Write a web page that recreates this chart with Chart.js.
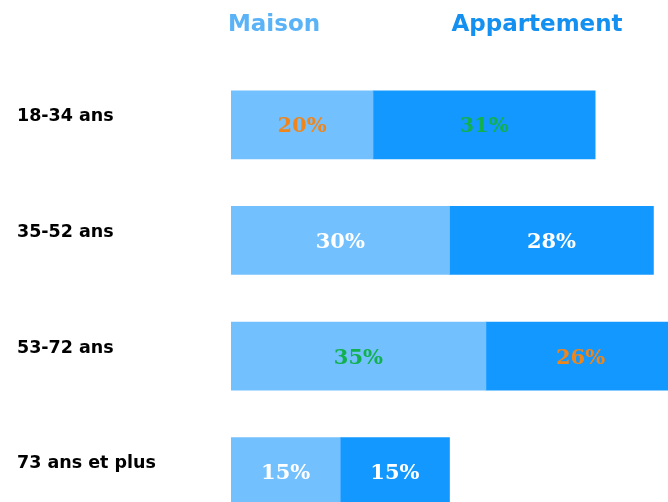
<!DOCTYPE html>
<html>
<head>
<meta charset="utf-8">
<script src="https://cdn.jsdelivr.net/npm/chart.js@4.4.1/dist/chart.umd.min.js"></script>
<style>
  html, body { margin: 0; padding: 0; overflow: hidden; background: #ffffff; }
  #wrap { position: absolute; left: 0; top: 0; width: 668px; height: 540px; }
</style>
</head>
<body>
<div id="wrap"><canvas id="c" width="668" height="540"></canvas></div>
<script>
// ---- data ----
const categories = ['18-34 ans', '35-52 ans', '53-72 ans', '73 ans et plus'];
const seriesNames = ['Maison', 'Appartement'];
const maison = [19.5, 30, 35, 15];
const appartement = [30.5, 28, 26, 15];

// ---- styles ----
const barColors = ['#73C0FF', '#1398FF'];
const legendColors = ['#5AB2F7', '#1490F0'];
const ORANGE = '#F0861A', GREEN = '#12B04E', WHITE = '#FFFFFF';
const labelColors = [
  [ORANGE, WHITE, GREEN, WHITE],
  [GREEN, WHITE, ORANGE, WHITE]
];

const legendPlugin = {
  id: 'topLegend',
  afterDraw(chart) {
    const ctx = chart.ctx;
    const centers = [274, 537];
    ctx.save();
    ctx.font = 'bold 23px "DejaVu Sans", sans-serif';
    ctx.textAlign = 'center';
    ctx.textBaseline = 'alphabetic';
    chart.data.datasets.forEach((ds, i) => {
      ctx.fillStyle = legendColors[i];
      ctx.fillText(ds.label, centers[i], 31);
    });
    ctx.restore();
  }
};

const valuePlugin = {
  id: 'valueLabels',
  afterDatasetsDraw(chart) {
    const ctx = chart.ctx;
    ctx.save();
    ctx.font = 'bold 21px "DejaVu Serif", "Liberation Serif", serif';
    ctx.textAlign = 'center';
    ctx.textBaseline = 'middle';
    chart.data.datasets.forEach((ds, di) => {
      const meta = chart.getDatasetMeta(di);
      meta.data.forEach((el, i) => {
        const x = (el.x + el.base) / 2;
        ctx.fillStyle = labelColors[di][i];
        ctx.fillText(Math.round(ds.data[i]) + '%', x, el.y + 2);
      });
    });
    ctx.restore();
  }
};

new Chart(document.getElementById('c'), {
  type: 'bar',
  data: {
    labels: categories,
    datasets: [
      { label: seriesNames[0], data: maison, backgroundColor: barColors[0], borderWidth: 0 },
      { label: seriesNames[1], data: appartement, backgroundColor: barColors[1], borderWidth: 0 }
    ]
  },
  options: {
    indexAxis: 'y',
    responsive: false,
    animation: false,
    layout: { padding: { left: 17, top: 67, right: 0, bottom: 9 } },
    plugins: {
      legend: { display: false },
      tooltip: { enabled: false }
    },
    datasets: { bar: { barThickness: 68 } },
    scales: {
      x: {
        stacked: true, display: false, min: 0, max: 60
      },
      y: {
        stacked: true,
        grid: { display: false, drawTicks: false },
        border: { display: false },
        afterFit(scale) { scale.width = 214; },
        ticks: {
          crossAlign: 'far',
          padding: 0,
          labelOffset: -8,
          color: '#000000',
          font: { family: '"DejaVu Sans", sans-serif', weight: 'bold', size: 17.5 }
        }
      }
    }
  },
  plugins: [legendPlugin, valuePlugin]
});
</script>
</body>
</html>
